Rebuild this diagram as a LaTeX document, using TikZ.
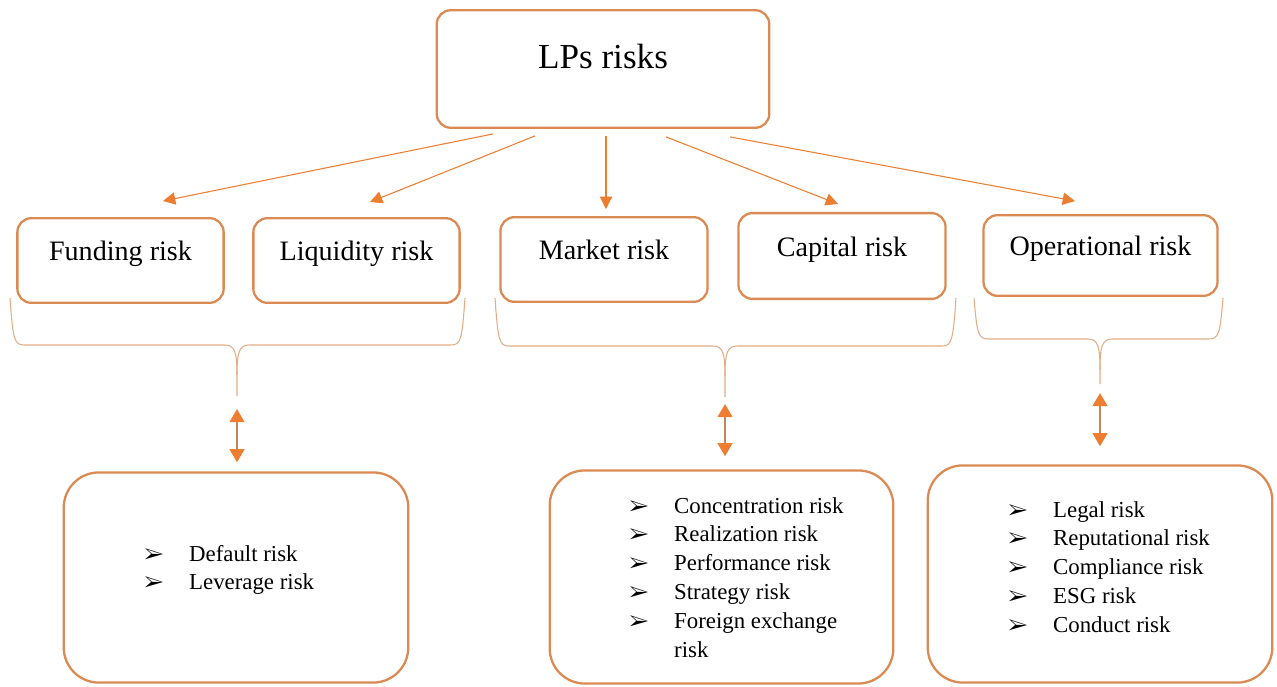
\documentclass[tikz,border=0pt]{standalone}
\usepackage{fontspec}
\usepackage{pifont}
\setmainfont{Liberation Serif}
\usetikzlibrary{arrows.meta,calc}

\definecolor{lporange}{RGB}{237,125,49}
\definecolor{boxline}{RGB}{218,138,82}
\definecolor{braceline}{RGB}{228,172,132}

\newcommand{\lpbullet}{{\fontsize{12}{16.4}\selectfont\ding{226}}}

\tikzset{
  riskbox/.style={draw=boxline, line width=1.3pt, rounded corners=8pt, inner sep=0pt,
    text height=6pt, text depth=6pt, font=\fontsize{16}{19}\selectfont},
  listbox/.style={draw=boxline, line width=1.3pt, rounded corners=20pt, inner sep=0pt},
  risklist/.style={anchor=base west, inner sep=0pt, font=\fontsize{13}{16.4}\selectfont},
  brace/.style={draw=braceline, line width=0.6pt},
  arr/.style={draw=lporange, line width=0.6pt, -{Triangle[length=7pt,width=7pt]}},
  dblarr/.style={draw=boxline!75!gray, line width=0.8pt,
    {Triangle[length=7.5pt,width=8.5pt,color=lporange]}-{Triangle[length=7.5pt,width=8.5pt,color=lporange]}}
}

\begin{document}
\begin{tikzpicture}[x=0.02cm,y=-0.02cm]
\useasboundingbox (0,0) rectangle (1277,686);

% top
\node[riskbox, minimum width=189.3pt, minimum height=66.9pt, font=\fontsize{20}{24}\selectfont] (lps) at (603,69) {LPs risks};

% risk groups
\node[riskbox, minimum width=117.4pt, minimum height=48.2pt] (funding) at (120.5,260.5) {Funding risk};
\node[riskbox, minimum width=117.4pt, minimum height=48.2pt] (liquidity) at (356.5,260.5) {Liquidity risk};
\node[riskbox, minimum width=117.9pt, minimum height=48.2pt] (market) at (604,259.5) {Market risk};
\node[riskbox, minimum width=117.9pt, minimum height=48.8pt] (capital) at (842,256) {Capital risk};
\node[riskbox, minimum width=133.2pt, minimum height=45.9pt] (operational) at (1100.5,255.5) {Operational risk};

\draw[arr] ($(lps.south)+(-110,5)$) -- ($(funding.north)+(42.5,-16)$);
\draw[arr] ($(lps.south)+(-68,7)$) -- ($(liquidity.north)+(13.5,-15)$);
\draw[arr] ($(lps.south)+(3,7)$) -- ($(market.north)+(2,-7)$);
\draw[arr] ($(lps.south)+(63,8)$) -- ($(capital.north)+(-4,-8)$);
\draw[arr] ($(lps.south)+(127,8)$) -- ($(operational.north)+(-25.5,-13)$);

% braces
\foreach \nm/\xa/\xb/\xt/\yh/\yb in {fl/10/465/237/345/396, mc/495/956/725/346/397, op/974/1223/1100/339/384}{
  \draw[brace] (\xa,298) .. controls (\xa+3,\yh-6) and (\xa+4,\yh) .. (\xa+14,\yh) -- (\xt-12,\yh)
    .. controls (\xt-2,\yh) and (\xt,\yh+8) .. (\xt,\yh+30) -- (\xt,\yb);
  \draw[brace] (\xt,\yh+30) .. controls (\xt,\yh+8) and (\xt+2,\yh) .. (\xt+12,\yh) -- (\xb-14,\yh)
    .. controls (\xb-4,\yh) and (\xb-3,\yh-6) .. (\xb,298);
  \coordinate (\nm tip) at (\xt,\yb);
}

% sub-risks
\node[listbox, minimum width=196.1pt, minimum height=119.6pt] (fundlist) at (236,577.5) {};
\node[listbox, minimum width=195.6pt, minimum height=121.3pt] (marketlist) at (721.5,577) {};
\node[listbox, minimum width=196.1pt, minimum height=123.6pt] (oplist) at (1100,574) {};

\node[risklist] (fundrisks) at (144,561) {\begin{tabular}[t]{@{}p{25.5pt}@{}l@{}}
  \lpbullet & Default risk\\
  \lpbullet & Leverage risk
\end{tabular}};
\node[risklist] (marketrisks) at (629,513) {\begin{tabular}[t]{@{}p{25.5pt}@{}l@{}}
  \lpbullet & Concentration risk\\
  \lpbullet & Realization risk\\
  \lpbullet & Performance risk\\
  \lpbullet & Strategy risk\\
  \lpbullet & Foreign exchange\\
            & risk
\end{tabular}};
\node[risklist] (oprisks) at (1008,517) {\begin{tabular}[t]{@{}p{25.5pt}@{}l@{}}
  \lpbullet & Legal risk\\
  \lpbullet & Reputational risk\\
  \lpbullet & Compliance risk\\
  \lpbullet & ESG risk\\
  \lpbullet & Conduct risk
\end{tabular}};

\draw[dblarr] ($(fltip)+(0,13)$) -- ($(fltip |- fundlist.north)+(0,-9)$);
\draw[dblarr] ($(mctip)+(0,7)$) -- ($(mctip |- marketlist.north)+(0,-13)$);
\draw[dblarr] ($(optip)+(0,9)$) -- ($(optip |- oplist.north)+(0,-18)$);

\end{tikzpicture}
\end{document}
